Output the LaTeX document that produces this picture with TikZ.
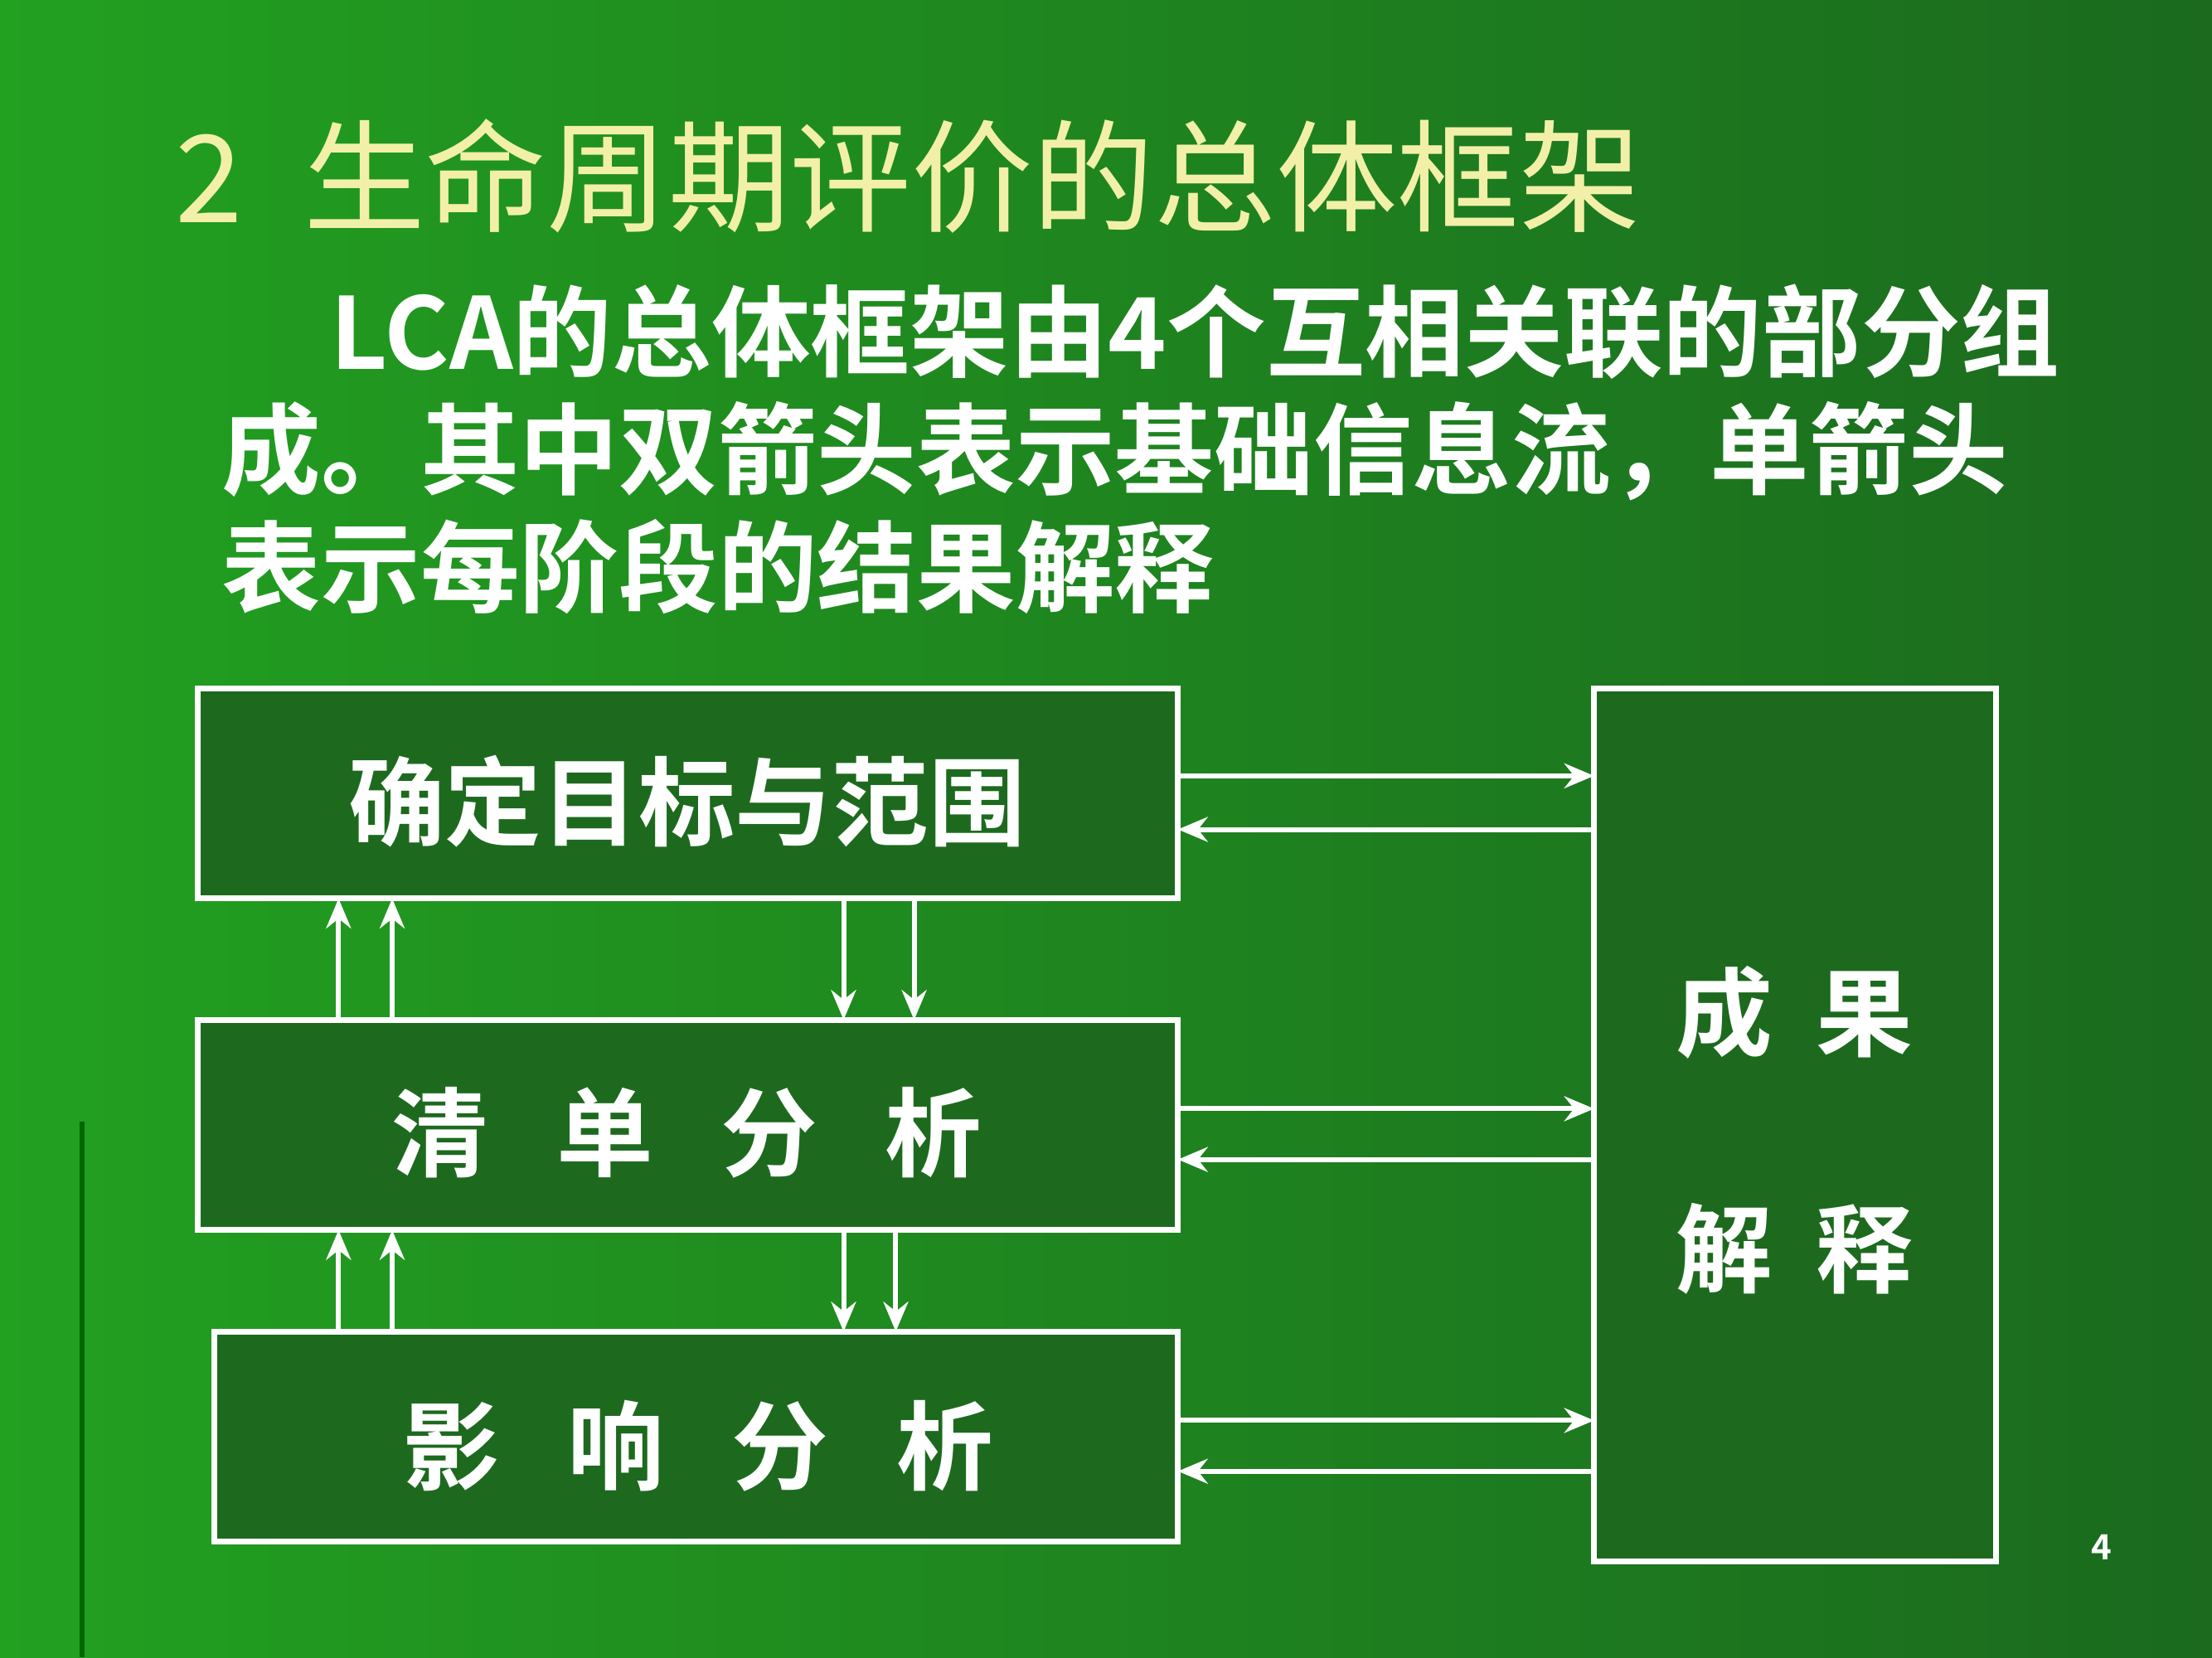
\documentclass[tikz,border=0pt]{standalone}
\usepackage{fontspec}
\newfontfamily\cjk{Noto Sans CJK SC}
\newfontfamily\cjkb{Noto Sans CJK SC Bold}
\usetikzlibrary{arrows.meta}
\definecolor{titlecol}{HTML}{F2F0A8}
\definecolor{bgL}{HTML}{22A020}
\definecolor{bgR}{HTML}{1B6A1E}
\definecolor{boxfill}{HTML}{1D6A1F}
\tikzset{
  blk/.style={draw=white,line width=1.2pt,fill=boxfill},
  lbl/.style={text=white,font=\cjkb\fontsize{19.5pt}{22pt}\selectfont},
  para/.style={anchor=west,text=white,font=\cjkb\fontsize{20pt}{24pt}\selectfont},
  arr/.style={draw=white,line width=1pt,-{Stealth[length=6pt,width=5pt]}},
}
\begin{document}
\begin{tikzpicture}[x=0.01cm,y=-0.01cm]
\shade[left color=bgL,right color=bgR] (0,0) rectangle (1568,1175);
\useasboundingbox (0,0) rectangle (1568,1175);
\draw[black!60!green,line width=1pt] (58,795) -- (58,1175);
\node[anchor=west,text=titlecol,font=\cjk\fontsize{24.5pt}{28pt}\selectfont] (title) at (112,125) {2\hspace{0.5em}生命周期评价的总体框架};
\node[para] (p1) at (222,235) {LCA的总体框架由4个互相关联的部分组};
\node[para] (p2) at (145,320) {成。其中双箭头表示基础信息流，单箭头};
\node[para] (p3) at (145,402) {表示每阶段的结果解释};
% boxes
\draw[blk] (140,488) rectangle (835,637);
\draw[blk] (140,723) rectangle (835,872);
\draw[blk] (152,944) rectangle (835,1093);
\draw[blk] (1130,488) rectangle (1415,1107);
\node[lbl] (b1) at (487,568) {确定目标与范围};
\node[lbl] (b2) at (487,803) {清\hspace{0.7em}单\hspace{0.7em}分\hspace{0.7em}析};
\node[lbl] (b3) at (495,1025) {影\hspace{0.7em}响\hspace{0.7em}分\hspace{0.7em}析};
\node[lbl] (r1) at (1272,718) {成\hspace{0.45em}果};
\node[lbl] (r2) at (1272,885) {解\hspace{0.45em}释};
\node[text=white,font=\cjkb\fontsize{7pt}{8pt}\selectfont] (pg) at (1490,1097) {4};
% horizontal arrows
\foreach \ya/\yb in {550/588, 786/822, 1007/1043}{
  \coordinate (L1) at (835,\ya); \coordinate (R1) at (1130,\ya);
  \coordinate (L2) at (835,\yb); \coordinate (R2) at (1130,\yb);
  \draw[arr] (L1) -- (R1);
  \draw[arr] (R2) -- (L2);
}
% vertical arrows
\foreach \x in {240,278}{
  \coordinate (u1) at (\x,723); \coordinate (u2) at (\x,637);
  \draw[arr] (u1) -- (u2);
  \coordinate (v1) at (\x,944); \coordinate (v2) at (\x,872);
  \draw[arr] (v1) -- (v2);
}
\foreach \x in {598,648}{
  \coordinate (d1) at (\x,637); \coordinate (d2) at (\x,723);
  \draw[arr] (d1) -- (d2);
}
\foreach \x in {598,635}{
  \coordinate (e1) at (\x,872); \coordinate (e2) at (\x,944);
  \draw[arr] (e1) -- (e2);
}
\end{tikzpicture}
\end{document}
